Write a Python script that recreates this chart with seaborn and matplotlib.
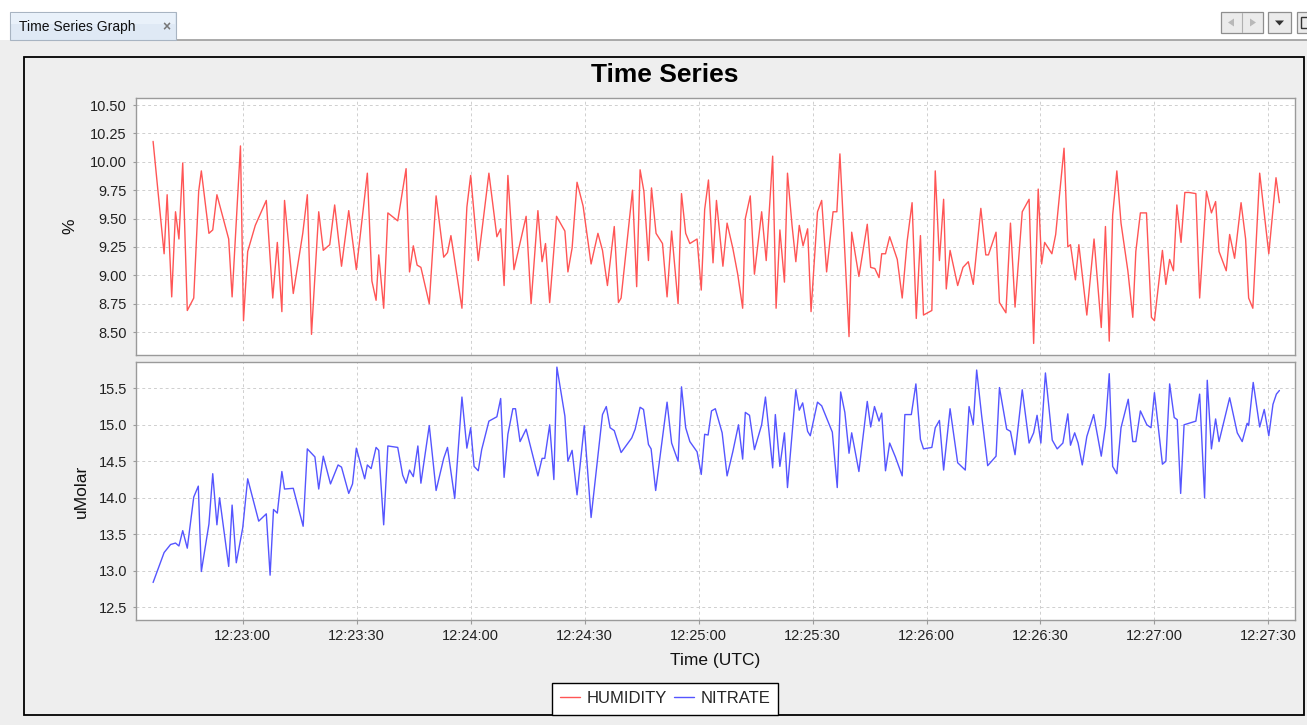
import numpy as np
import pandas as pd
import matplotlib
matplotlib.use("Agg")
import matplotlib.pyplot as plt
import matplotlib.dates as mdates
from matplotlib.patches import Rectangle, Polygon
from matplotlib.lines import Line2D
import seaborn as sns

# ---------------- data (seconds after 12:22:00 UTC) ----------------
hum_t = [36.4, 39.3, 40.1, 41.3, 42.3, 43.2, 44.2, 45.4, 47.1, 48.4, 49.1, 51.1, 52.1, 53.2, 56.3, 57.2,
         59.4, 60.2, 61.3, 63.3, 66.2, 67.9, 69.1, 70.3, 71.0, 73.3, 75.8, 77.0, 78.1, 80.0, 81.2, 82.9, 84.2,
         86.0, 87.9, 89.9, 92.8, 94.0, 95.1, 95.8, 97.1, 98.2, 100.8, 103.0, 103.9, 104.9, 105.9, 106.9,
         109.1, 110.9, 112.9, 113.9, 114.8, 117.7, 119.0, 120.0, 122.0, 124.8, 126.9, 127.9, 128.8, 129.8,
         131.4, 134.6, 135.9,
         137.7, 138.8, 139.7, 140.8, 142.6, 144.8, 145.6, 146.7, 148.0, 149.6, 151.7, 153.5, 154.7, 156.0,
         157.8, 158.9, 159.6, 162.6, 163.7, 164.6, 165.6, 166.8, 167.6, 168.8, 170.5, 171.7, 172.9, 174.6,
         175.5, 176.6, 177.7, 179.6, 180.7, 181.6, 182.6, 183.8, 184.7, 186.4,
         187.5, 189.0, 190.3, 191.6, 192.3, 193.6, 194.7, 196.6, 197.8, 199.5, 200.4, 201.4, 202.6, 203.4,
         204.6, 205.6, 206.5, 207.5, 208.7, 209.6, 211.3, 212.4, 213.7, 215.4, 216.4, 217.2, 219.6, 220.3,
         222.2, 224.4, 225.3, 226.4, 227.5, 228.2, 229.2, 230.3, 232.3, 233.6, 234.9, 236.2, 237.3,
         238.4, 239.2, 241.4, 242.3, 243.4, 244.5, 245.2, 246.2, 248.2, 249.6, 251.0, 252.3, 254.3, 255.6,
         256.3, 258.3, 259.2, 260.9, 262.1, 263.3, 265.2, 267.0, 268.2, 269.4, 270.3, 271.1, 273.0, 274.0,
         276.2, 277.2, 277.9, 279.2, 280.1, 282.2, 284.1, 286.0, 287.1,
         288.1, 289.0, 290.1, 291.2, 293.0, 294.3, 295.1, 296.3, 297.9, 299.2, 300.0, 302.1, 303.0, 304.0,
         305.0, 305.9, 307.0, 308.0, 309.1, 310.9, 311.9, 313.7, 315.0, 316.1, 317.0, 318.9, 319.8, 321.1,
         322.8, 324.0, 324.8, 325.9, 327.7, 330.1, 332.0, 332.9]
hum_v = [10.18, 9.19, 9.71, 8.81, 9.56, 9.32, 9.99, 8.69, 8.80, 9.74, 9.92, 9.37, 9.40, 9.71, 9.32, 8.81,
         10.14, 8.60, 9.21, 9.44, 9.66, 8.80, 9.29, 8.68, 9.66, 8.84, 9.37, 9.71, 8.48, 9.56, 9.22, 9.27, 9.62,
         9.08, 9.57, 9.05, 9.90, 8.95, 8.78, 9.18, 8.71, 9.55, 9.48, 9.94, 9.03, 9.26, 9.09, 9.07,
         8.75, 9.70, 9.16, 9.20, 9.35, 8.71, 9.60, 9.88, 9.13, 9.90, 9.34, 9.41, 8.91, 9.88,
         9.05, 9.52, 8.75,
         9.57, 9.12, 9.28, 8.76, 9.52, 9.39, 9.03, 9.24, 9.82, 9.61, 9.10, 9.37, 9.22, 8.91,
         9.43, 8.76, 8.80, 9.75, 8.90, 9.93, 9.74, 9.13, 9.77, 9.37, 9.28, 8.81, 9.39, 8.75,
         9.72, 9.37, 9.28, 9.32, 8.87, 9.58, 9.84, 9.11, 9.66, 9.08,
         9.46, 9.24, 9.01, 8.71, 9.50, 9.70, 9.01, 9.56, 9.13, 10.05, 8.71, 9.40, 8.94, 9.90,
         9.44, 9.12, 9.44, 9.26, 9.41, 8.68, 9.56, 9.66, 9.03, 9.56, 9.56, 10.07, 8.46, 9.38,
         8.99, 9.45, 9.07, 9.06, 8.98, 9.19, 9.19, 9.34, 9.14, 8.80, 9.30, 9.64, 8.62,
         9.35, 8.65, 8.69, 9.92, 9.13, 9.67, 8.88, 9.22, 8.91, 9.07, 9.12, 8.92, 9.59, 9.18,
         9.18, 9.38, 8.76, 8.67, 9.46, 8.72, 9.56, 9.67, 8.40, 9.76, 9.10, 9.29, 9.19, 9.36,
         10.12, 9.25, 9.27, 8.96, 9.27, 8.65, 9.32, 8.54, 9.43,
         8.42, 9.53, 9.92, 9.46, 9.04, 8.63, 9.21, 9.55, 9.55, 8.63, 8.60, 9.22, 8.92, 9.14,
         9.04, 9.62, 9.29, 9.73, 9.73, 9.72, 8.80, 9.74, 9.55, 9.65, 9.21, 9.04, 9.36, 9.15,
         9.64, 9.32, 8.80, 8.71, 9.90, 9.19, 9.86, 9.64]

nit_t = [36.4, 39.3, 41.0, 42.3, 43.2, 44.2, 45.4, 47.1, 48.3, 49.1, 51.1, 52.1, 53.2, 53.9, 56.3, 57.2,
         58.3, 60.0, 61.3, 64.2, 66.2, 67.2, 68.1, 69.1, 70.3, 71.0, 73.3, 75.9, 77.0, 79.0, 80.0, 81.2,
         83.1, 85.1,
         86.0, 87.9, 88.9, 89.9, 92.1, 92.8, 93.8, 95.1, 95.8, 97.1, 98.2, 100.8, 102.1, 103.0, 103.9,
         104.9, 106.1, 106.9, 109.1, 110.9, 112.9, 113.9, 115.8, 117.7, 119.0, 120.0, 120.9, 122.0, 122.9,
         124.8, 126.9, 127.9, 128.8, 129.8, 131.1, 131.8, 133.0, 134.6,
         137.7, 138.8, 139.5, 140.8, 141.9, 142.7, 144.8, 145.6, 146.7, 148.0, 149.9, 151.7, 154.7, 155.7,
         156.7, 157.8, 159.6, 162.4, 163.3, 164.6, 165.5, 166.8, 167.5, 168.7, 171.7, 172.9, 174.6, 175.5,
         176.6, 177.7, 179.6, 180.7, 181.6, 182.5, 183.4, 184.4, 186.2, 187.5,
         189.0, 190.5, 191.6, 192.3, 193.4, 194.7, 196.6, 197.6, 199.5, 200.2, 201.4, 202.6, 203.4, 205.6,
         206.5, 207.4, 208.7, 209.4, 211.3, 212.4, 215.2, 216.5, 217.4, 218.5, 219.6, 220.3, 222.2, 224.4,
         225.3, 226.3, 227.5, 228.2, 229.2, 230.3, 231.8, 233.6, 234.3, 236.0, 237.2,
         238.4, 239.2, 241.4, 242.3, 243.4, 244.5, 246.2, 248.2, 250.2, 251.2, 252.3, 253.2, 254.5, 256.1,
         258.3, 259.2, 261.1, 262.1, 263.3, 265.2, 267.0, 268.2, 269.1, 270.1, 271.3, 273.1, 274.4, 275.9,
         277.2, 277.9, 279.0, 279.9, 281.0, 282.2, 284.0, 286.0,
         287.1, 288.1, 289.0, 290.1, 291.2, 293.1, 294.3, 295.1, 296.3, 298.0, 299.1, 300.0, 302.1, 303.0,
         304.0, 305.2, 306.0, 306.9, 307.8, 310.9, 311.9, 313.2, 313.9, 315.0, 316.1, 317.0, 319.8, 321.8,
         323.1, 324.4, 324.8, 326.0, 327.7, 328.9, 330.1, 331.2, 332.1, 332.9]
nit_v = [12.84, 13.25, 13.36, 13.38, 13.34, 13.55, 13.31, 14.01, 14.16, 12.99, 13.64, 14.33, 13.63, 14.00,
         13.06, 13.90, 13.11, 13.59, 14.26, 13.68, 13.78, 12.94, 13.84, 13.79, 14.36, 14.12, 14.13, 13.61,
         14.67, 14.56, 14.12, 14.57, 14.19, 14.45,
         14.42, 14.06, 14.19, 14.68, 14.26, 14.45, 14.40, 14.69, 14.65, 13.63, 14.71, 14.69, 14.31, 14.20,
         14.38, 14.29, 14.71, 14.20, 14.99, 14.10, 14.54, 14.69, 13.99, 15.38, 14.68, 14.96, 14.43, 14.37,
         14.66, 15.05, 15.11, 15.36, 14.28, 14.87, 15.22, 15.22, 14.77, 14.94,
         14.30, 14.54, 14.54, 15.00, 14.25, 15.79, 15.12, 14.50, 14.65, 14.04, 14.99, 13.73, 15.14, 15.25,
         14.96, 14.92, 14.62, 14.82, 14.94, 15.24, 15.21, 14.73, 14.67, 14.10, 15.31, 14.75, 14.50, 15.52,
         14.96, 14.77, 14.63, 14.32, 14.87, 14.86, 15.19, 15.22, 14.89, 14.30,
         14.63, 15.00, 14.53, 15.17, 15.13, 14.66, 15.00, 15.38, 14.41, 15.14, 14.43, 14.89, 14.14, 15.48,
         15.20, 15.30, 14.91, 14.85, 15.31, 15.26, 14.90, 14.14, 15.45, 15.17, 14.61, 14.89, 14.36, 15.32,
         14.97, 15.25, 15.05, 15.16, 14.37, 14.75, 14.56, 14.30, 15.14, 15.14, 15.56,
         14.80, 14.67, 14.69, 14.96, 15.06, 14.38, 15.22, 14.48, 14.38, 15.25, 15.00, 15.75, 15.13, 14.44,
         14.57, 15.51, 14.94, 14.91, 14.59, 15.48, 14.75, 14.89, 15.13, 14.75, 15.71, 14.79, 14.67, 14.75,
         15.15, 14.72, 14.89, 14.75, 14.45, 14.84, 15.14, 14.57,
         14.98, 15.70, 14.43, 14.33, 14.96, 15.35, 14.77, 14.77, 15.19, 15.00, 14.96, 15.44, 14.46, 14.50,
         15.56, 15.10, 15.07, 14.06, 15.00, 15.05, 15.42, 14.00, 15.61, 14.67, 15.08, 14.77, 15.37, 14.89,
         14.77, 15.02, 14.99, 15.58, 14.97, 15.21, 14.85, 15.28, 15.42, 15.47]

series_names = ["HUMIDITY", "NITRATE"]
y_labels = ["%", "uMolar"]
hum_ticks = [8.50, 8.75, 9.00, 9.25, 9.50, 9.75, 10.00, 10.25, 10.50]
nit_ticks = [12.5, 13.0, 13.5, 14.0, 14.5, 15.0, 15.5]

# ---------------- styling ----------------
W, H = 1307, 725
sns.set_style("white")
plt.rcParams["font.family"] = ["Liberation Sans", "DejaVu Sans"]

RED = "#ff5555"
BLUE = "#5555ff"
GRID = "#cfcfcf"
SPINE = "#9a9a9a"
BG = "#eeeeee"

base = pd.Timestamp("2024-01-01 12:22:00")
hum_df = pd.DataFrame({"time": base + pd.to_timedelta(np.array(hum_t), unit="s"), "value": hum_v})
nit_df = pd.DataFrame({"time": base + pd.to_timedelta(np.array(nit_t), unit="s"), "value": nit_v})

fig = plt.figure(figsize=(W / 100, H / 100), dpi=100, facecolor=BG)


def fx(x):
    return x / W


def fy(y):
    return 1 - y / H


def rect(x0, y0, x1, y1, **kw):
    r = Rectangle((fx(x0), fy(y1)), (x1 - x0) / W, (y1 - y0) / H, transform=fig.transFigure, **kw)
    fig.add_artist(r)
    return r


# window chrome
rect(0, 0, W, 40, facecolor="white", edgecolor="none", zorder=-10)
fig.add_artist(Line2D([fx(176), 1], [fy(40), fy(40)], transform=fig.transFigure, color="#9c9c9c", lw=1.2, zorder=-9))
rect(10, 12, 176, 40, facecolor="#dfe9f5", edgecolor="#a8b4c2", lw=0.8, zorder=-9)
rect(11, 13, 175, 24, facecolor="#e9f1fa", edgecolor="none", zorder=-8)
fig.text(fx(19), fy(27), "Time Series Graph", fontsize=10, ha="left", va="center", color="#111111",
         family=["Liberation Sans", "DejaVu Sans"])
fig.text(fx(166), fy(27), "\u00d7", fontsize=10, ha="center", va="center", color="#777777", fontweight="bold")

# control buttons (top right)
for (x0, x1) in [(1221, 1263), (1268, 1291), (1297, 1312)]:
    rect(x0, 12, x1, 33, facecolor="#ebebeb", edgecolor="#8e8e8e", lw=0.9, zorder=-8)
fig.add_artist(Line2D([fx(1242), fx(1242)], [fy(13), fy(32)], transform=fig.transFigure, color="#b0b0b0", lw=0.8))
fig.add_artist(Polygon([[fx(1228), fy(22.5)], [fx(1234), fy(18.5)], [fx(1234), fy(26.5)]], closed=True,
                       transform=fig.transFigure, facecolor="#b8b8b8", edgecolor="none"))
fig.add_artist(Polygon([[fx(1256), fy(22.5)], [fx(1250), fy(18.5)], [fx(1250), fy(26.5)]], closed=True,
                       transform=fig.transFigure, facecolor="#b8b8b8", edgecolor="none"))
fig.add_artist(Polygon([[fx(1275), fy(20.5)], [fx(1284), fy(20.5)], [fx(1279.5), fy(25.5)]], closed=True,
                       transform=fig.transFigure, facecolor="#333333", edgecolor="none"))
rect(1301, 17, 1312, 28, facecolor="none", edgecolor="#333333", lw=1.0, zorder=-7)

# chart panel border
rect(24, 57.3, 1304, 715, facecolor=BG, edgecolor="black", lw=1.3, zorder=-6)

# ---------------- axes ----------------
left = 136 / W
width = (1295 - 136) / W
ax1 = fig.add_axes([left, fy(355), width, (355 - 97.7) / H])
ax2 = fig.add_axes([left, fy(620), width, (620 - 362.3) / H], sharex=ax1)

sns.lineplot(data=hum_df, x="time", y="value", ax=ax1, color=RED, linewidth=1.0,
             estimator=None, sort=False, legend=False)
sns.lineplot(data=nit_df, x="time", y="value", ax=ax2, color=BLUE, linewidth=1.0,
             estimator=None, sort=False, legend=False)

ax1.set_ylim(8.298, 10.565)
ax2.set_ylim(12.326, 15.856)
ax1.set_xlim(base + pd.Timedelta(seconds=31.9), base + pd.Timedelta(seconds=337.0))

ax1.set_yticks(hum_ticks)
ax1.set_yticklabels([f"{v:.2f}" for v in hum_ticks])
ax2.set_yticks(nit_ticks)
ax2.set_yticklabels([f"{v:.1f}" for v in nit_ticks])

ax2.xaxis.set_major_locator(mdates.SecondLocator(bysecond=[0, 30]))
ax2.xaxis.set_major_formatter(mdates.DateFormatter("%H:%M:%S"))

for ax in (ax1, ax2):
    ax.set_facecolor("white")
    for s in ax.spines.values():
        s.set_color(SPINE)
        s.set_linewidth(1.0)
        s.set_visible(True)
    ax.grid(True, which="major", color=GRID, linestyle=(0, (3, 3)), linewidth=0.7)
    ax.tick_params(axis="y", direction="out", length=2.5, width=0.8, color=SPINE, pad=4,
                   labelsize=10.5, labelcolor="#222222", left=True)
    ax.tick_params(axis="x", direction="out", length=3.2, width=0.8, color=SPINE, pad=3.5,
                   labelsize=10.5, labelcolor="#222222", bottom=True)
    ax.set_xlabel("")

ax1.tick_params(axis="x", bottom=False, labelbottom=False)

ax1.set_ylabel(y_labels[0], fontsize=12.5, color="#111111")
ax2.set_ylabel(y_labels[1], fontsize=12.5, color="#111111")
ax1.yaxis.label.set_va("center")
ax2.yaxis.label.set_va("center")
ax1.yaxis.set_label_coords((70 - 136) / (1295 - 136), 0.5)
ax2.yaxis.set_label_coords((81 - 136) / (1295 - 136), 0.5)

ax2.set_xlabel("Time (UTC)", fontsize=12.5, color="#111111")
ax2.xaxis.label.set_va("center")
ax2.xaxis.set_label_coords(0.5, -(661 - 620) / (620 - 362.3))

fig.text(fx(664.5), fy(75.5), "Time Series", fontsize=19, fontweight="bold", ha="center", va="center",
         color="black")

handles = [Line2D([], [], color=RED, lw=1.0), Line2D([], [], color=BLUE, lw=1.0)]
leg = fig.legend(handles, series_names, loc="lower center", bbox_to_anchor=(fx(665), fy(714.5)),
                 ncol=2, frameon=True, fancybox=False, fontsize=12, handlelength=1.2,
                 handletextpad=0.4, columnspacing=0.4, borderpad=0.5, borderaxespad=0)
leg.get_frame().set_edgecolor("black")
leg.get_frame().set_linewidth(1.0)
leg.get_frame().set_facecolor("white")
leg.get_frame().set_alpha(1)

fig.savefig("out.png", dpi=100, facecolor=fig.get_facecolor())
